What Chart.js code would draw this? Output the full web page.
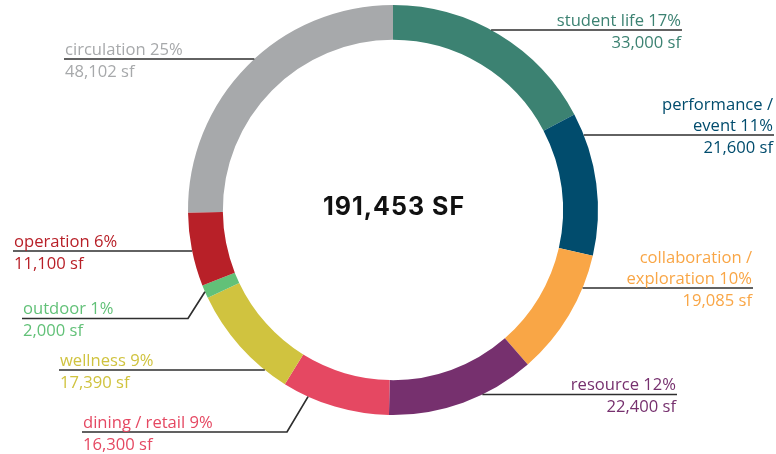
<!DOCTYPE html>
<html>
<head>
<meta charset="utf-8">
<script src="https://cdn.jsdelivr.net/npm/chart.js@4"></script>
<style>
  html, body { margin: 0; padding: 0; background: #ffffff; }
  #wrap { width: 776px; height: 454px; }
</style>
</head>
<body>
<div id="wrap"><canvas id="c" width="776" height="454"></canvas></div>
<script>
// Space program breakdown (square feet), clockwise from the top
const categories = [
  ['student life'],
  ['performance /', 'event'],
  ['collaboration /', 'exploration'],
  ['resource'],
  ['dining / retail'],
  ['wellness'],
  ['outdoor'],
  ['operation'],
  ['circulation']
];
const areas = [33000, 21600, 19085, 22400, 16300, 17390, 2000, 11100, 48102];
const percentLabels = ['17%', '11%', '10%', '12%', '9%', '9%', '1%', '6%', '25%'];
const totalLabel = '191,453 SF';

const colors = ['#3c8272', '#014c6d', '#f9a646', '#76306e', '#e54862',
                '#d0c33f', '#62c178', '#b82028', '#a7a9ab'];

// Callout placement for each slice: side, text edge x, leader y,
// optional elbow x and position along the slice for angled leaders
const callouts = [
  { side: 'right', x: 681, y: 30 },
  { side: 'right', x: 773, y: 135 },
  { side: 'right', x: 752, y: 288 },
  { side: 'right', x: 676, y: 394.5 },
  { side: 'left',  x: 83,  y: 432, elbow: 287, along: 0.76 },
  { side: 'left',  x: 60,  y: 370 },
  { side: 'left',  x: 23,  y: 318.5, elbow: 188, along: 0.5 },
  { side: 'left',  x: 14,  y: 251 },
  { side: 'left',  x: 65,  y: 59 }
];

const fmt = n => n.toLocaleString('en-US');
const LABEL_FONT = '16.6px "Open Sans", "Noto Sans", sans-serif';

const calloutPlugin = {
  id: 'callouts',
  afterDraw(chart) {
    const ctx = chart.ctx;
    const arcs = chart.getDatasetMeta(0).data;
    ctx.save();
    arcs.forEach((arc, i) => {
      const c = callouts[i];
      const { x: cx, y: cy, outerRadius: r, startAngle, endAngle } =
        arc.getProps(['x', 'y', 'outerRadius', 'startAngle', 'endAngle'], true);
      // leader line
      ctx.beginPath();
      ctx.strokeStyle = '#2e2e2e';
      ctx.lineWidth = 1.7;
      if (c.elbow !== undefined) {
        const a = startAngle + (endAngle - startAngle) * c.along;
        const ax = cx + r * Math.cos(a);
        const ay = cy + r * Math.sin(a);
        ctx.moveTo(c.x - 1, c.y);
        ctx.lineTo(c.elbow, c.y);
        ctx.lineTo(ax, ay);
      } else {
        const dy = c.y - cy;
        const dx = Math.sqrt(Math.max(0, r * r - dy * dy));
        const edgeX = c.side === 'left' ? cx - dx : cx + dx;
        if (c.side === 'left') {
          ctx.moveTo(c.x - 1, c.y);
          ctx.lineTo(edgeX, c.y);
        } else {
          ctx.moveTo(edgeX, c.y);
          ctx.lineTo(c.x + 1, c.y);
        }
      }
      ctx.stroke();

      // texts
      ctx.fillStyle = colors[i];
      ctx.font = LABEL_FONT;
      ctx.textAlign = c.side === 'left' ? 'left' : 'right';
      ctx.textBaseline = 'alphabetic';
      const lines = categories[i].slice();
      lines[lines.length - 1] = lines[lines.length - 1] + ' ' + percentLabels[i];
      const lineGap = 21;
      lines.forEach((t, k) => {
        const fromBottom = lines.length - 1 - k;
        ctx.fillText(t, c.x, c.y - 4.5 - fromBottom * lineGap);
      });
      ctx.fillText(fmt(areas[i]) + ' sf', c.x, c.y + 17.5);
    });

    // total in the middle of the ring
    const a0 = arcs[0];
    ctx.fillStyle = '#111111';
    ctx.font = '700 25px Inter, "DejaVu Sans", sans-serif';
    ctx.textAlign = 'center';
    ctx.textBaseline = 'alphabetic';
    if ('letterSpacing' in ctx) ctx.letterSpacing = '1px';
    ctx.fillText(totalLabel, a0.x + 1, a0.y + 5);
    ctx.restore();
  }
};

new Chart(document.getElementById('c'), {
  type: 'doughnut',
  data: {
    labels: categories.map(l => l.join(' ')),
    datasets: [{
      data: areas,
      backgroundColor: colors,
      borderWidth: 0,
      hoverOffset: 0
    }]
  },
  options: {
    responsive: false,
    animation: false,
    cutout: '83%',
    layout: { padding: { left: 188, right: 178, top: 5, bottom: 39 } },
    plugins: {
      legend: { display: false },
      tooltip: { enabled: false }
    }
  },
  plugins: [calloutPlugin]
});
</script>
</body>
</html>
